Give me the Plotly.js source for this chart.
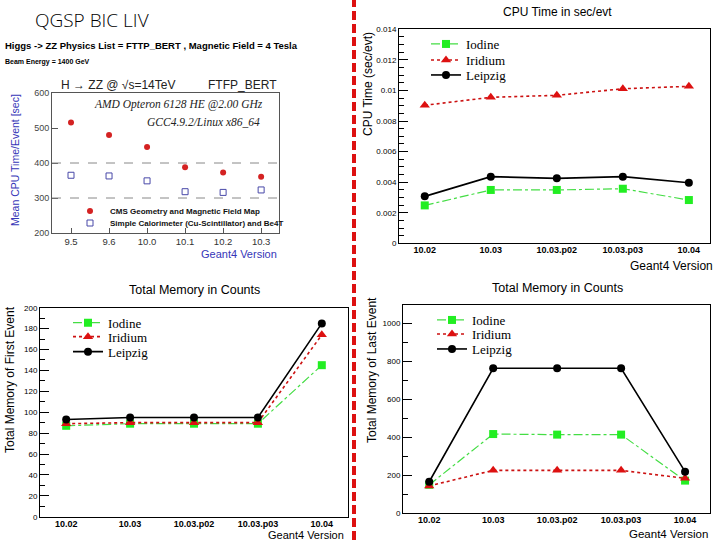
<!DOCTYPE html>
<html>
<head>
<meta charset="utf-8">
<script src="https://cdn.plot.ly/plotly-3.0.1.min.js"></script>
<style>
html,body{margin:0;padding:0;background:#fff;}
#chart{width:720px;height:540px;}
</style>
</head>
<body>
<div id="chart"></div>
<script>
// ---------- data ----------
const oldVersions = ['9.5', '9.6', '10.0', '10.1', '10.2', '10.3'];
const cmsGeometry = [516, 480, 446, 388, 373, 361];
const simpleCalo = [365, 363, 349, 318, 316, 323];
const refLines = [300, 400];

const versions = ['10.02', '10.03', '10.03.p02', '10.03.p03', '10.04'];
const cpuIodine = [0.00248, 0.00349, 0.00349, 0.00357, 0.00283];
const cpuIridium = [0.00903, 0.00955, 0.00968, 0.01011, 0.01027];
const cpuLeipzig = [0.00307, 0.00436, 0.00425, 0.00436, 0.00396];

const memFirstIodine = [87, 89, 89, 89, 145];
const memFirstIridium = [89, 90, 90, 90, 174];
const memFirstLeipzig = [93, 95, 95, 95, 185];

const memLastIodine = [150, 417, 414, 414, 172];
const memLastIridium = [144, 226, 226, 226, 184];
const memLastLeipzig = [166, 763, 763, 763, 219];

const machines = ['Iodine', 'Iridium', 'Leipzig'];

// ---------- helpers ----------
const W = 720, H = 540;
const X = p => p / W;
const Y = p => 1 - p / H;
const SANS = 'Liberation Sans, Arial, sans-serif';
const SERIF = 'Liberation Serif, Times New Roman, serif';

const styles = {
  Iodine: {line: {color: '#44dd44', width: 1.2, dash: 'dashdot'}, marker: {symbol: 'square', size: 8, color: '#22ee22'}},
  Iridium: {line: {color: '#cc1111', width: 1.6, dash: 'dot'}, marker: {symbol: 'triangle-up', size: 9, color: '#dd1111'}},
  Leipzig: {line: {color: '#000000', width: 1.6, dash: 'solid'}, marker: {symbol: 'circle', size: 8, color: '#000000'}}
};

let legendCount = 0;
const legends = {};
function mkLegend(xpx, ypx, fontSpec) {
  legendCount += 1;
  const key = legendCount === 1 ? 'legend' : 'legend' + legendCount;
  legends[key] = {
    x: X(xpx), y: Y(ypx), xanchor: 'left', yanchor: 'middle',
    bgcolor: 'rgba(0,0,0,0)', borderwidth: 0, font: fontSpec, itemwidth: 30
  };
  return key;
}

const traces = [];
function addSeries(name, xs, ys, xa, ya, legX, legY) {
  const s = styles[name];
  traces.push({
    type: 'scatter', mode: 'lines+markers', name: name, x: xs, y: ys,
    xaxis: xa, yaxis: ya, line: s.line, marker: s.marker,
    legend: mkLegend(legX, legY, {family: SERIF, size: 13, color: '#000'}),
    cliponaxis: false
  });
}

// Panel A (top-left): CPU time vs old versions
traces.push({
  type: 'scatter', mode: 'markers', name: 'CMS Geometry and Magnetic Field Map',
  x: oldVersions, y: cmsGeometry, xaxis: 'x', yaxis: 'y',
  marker: {symbol: 'circle', size: 6, color: '#d42222'},
  legend: mkLegend(70, 211, {family: SANS, size: 8, color: '#111', weight: 'bold'})
});
traces.push({
  type: 'scatter', mode: 'markers', name: 'Simple Calorimeter (Cu-Scintillator) and Be4T',
  x: oldVersions, y: simpleCalo, xaxis: 'x', yaxis: 'y',
  marker: {symbol: 'square-open', size: 6, color: '#4848a8', line: {width: 1}},
  legend: mkLegend(70, 223, {family: SANS, size: 8, color: '#111', weight: 'bold'})
});

// Panel B (top-right): CPU time sec/evt
const cpuSeries = {Iodine: cpuIodine, Iridium: cpuIridium, Leipzig: cpuLeipzig};
const cpuLegY = [44, 60, 75];
machines.forEach((m, i) => addSeries(m, versions, cpuSeries[m], 'x2', 'y2', 426, cpuLegY[i]));

// Panel C (bottom-left): memory of first event
const firstSeries = {Iodine: memFirstIodine, Iridium: memFirstIridium, Leipzig: memFirstLeipzig};
const firstLegY = [322.7, 336.7, 351.7];
machines.forEach((m, i) => addSeries(m, versions, firstSeries[m], 'x3', 'y3', 68, firstLegY[i]));

// Panel D (bottom-right): memory of last event
const lastSeries = {Iodine: memLastIodine, Iridium: memLastIridium, Leipzig: memLastLeipzig};
const lastLegY = [320, 334, 349];
machines.forEach((m, i) => addSeries(m, versions, lastSeries[m], 'x4', 'y4', 432, lastLegY[i]));

// ---------- axes ----------
function catAxis(domainPx, range, anchor, cats, font) {
  return {
    domain: [X(domainPx[0]), X(domainPx[1])], anchor: anchor, type: 'category',
    categoryorder: 'array', categoryarray: cats, range: range,
    showline: true, mirror: true, linecolor: '#000', linewidth: 1,
    ticks: '', showgrid: false, zeroline: false, fixedrange: true,
    tickfont: font, automargin: false, ticklabelstandoff: -2
  };
}
function valAxis(domainPx, range, anchor, dtick, minorDtick, font, lineColor) {
  return {
    domain: [Y(domainPx[1]), Y(domainPx[0])], anchor: anchor, range: range,
    dtick: dtick, tick0: 0, ticks: 'inside', ticklen: 9, tickcolor: lineColor,
    minor: {ticks: 'inside', ticklen: 5, dtick: minorDtick, tickcolor: lineColor},
    showline: true, mirror: true, linecolor: lineColor, linewidth: 1,
    showgrid: false, zeroline: false, fixedrange: true, tickfont: font, automargin: false
  };
}

const tickBold = {family: SANS, size: 9, color: '#000', weight: 'bold'};
const tickSmall = {family: SANS, size: 8, color: '#000'};

const layout = {
  width: W, height: H,
  margin: {l: 0, r: 0, t: 0, b: 0},
  paper_bgcolor: '#fff', plot_bgcolor: 'rgba(0,0,0,0)',
  showlegend: true,
  xaxis: Object.assign(catAxis([52, 279], [-0.5, 5.47], 'y', oldVersions,
    {family: SANS, size: 9.5, color: '#333'}), {linecolor: '#555', ticks: 'inside', ticklen: 5, tickcolor: '#555', ticklabelstandoff: 0}),
  yaxis: Object.assign(valAxis([93, 233], [200, 600], 'x', 100, 20,
    {family: SANS, size: 9, color: '#444'}, '#555'), {ticklen: 6, minor: {ticks: ''}}),
  xaxis2: catAxis([399, 710], [-0.39, 4.32], 'y2', versions, tickBold),
  yaxis2: valAxis([29.3, 243.3], [0, 0.014], 'x2', 0.002, 0.0005, tickSmall, '#000'),
  xaxis3: catAxis([40, 348], [-0.41, 4.41], 'y3', versions, tickBold),
  yaxis3: valAxis([307.7, 516.7], [0, 200], 'x3', 20, 10, tickSmall, '#000'),
  xaxis4: catAxis([403, 710], [-0.41, 4.39], 'y4', versions, tickBold),
  yaxis4: valAxis([305, 513.3], [0, 1096], 'x4', 200, 100, tickSmall, '#000'),
  shapes: [],
  annotations: []
};
Object.assign(layout, legends);

// reference dashed lines in panel A
refLines.forEach(v => layout.shapes.push({
  type: 'line', xref: 'x domain', yref: 'y', x0: 0, x1: 1, y0: v, y1: v,
  line: {color: '#888', width: 1, dash: 'dash'}
}));
// red dashed divider
layout.shapes.push({
  type: 'line', xref: 'paper', yref: 'paper', x0: X(354), x1: X(354), y0: 0, y1: 1,
  line: {color: '#dd1111', width: 4, dash: '9px,4px'}
});

function ann(text, xpx, ypx, font, opts) {
  layout.annotations.push(Object.assign({
    text: text, xref: 'paper', yref: 'paper', x: X(xpx), y: Y(ypx),
    xanchor: 'left', yanchor: 'middle', showarrow: false, font: font
  }, opts || {}));
}

// Panel A texts
ann('QGSP BIC LIV', 33, 20, {family: 'Open Sans, sans-serif', size: 19, color: '#000', weight: 300});
ann('Higgs -&gt; ZZ Physics List = FTTP_BERT , Magnetic Field = 4 Tesla', 3, 46,
  {family: SANS, size: 9.5, color: '#000', weight: 'bold'});
ann('Beam Energy = 1400 GeV', 3, 62, {family: SANS, size: 7, color: '#000', weight: 'bold'});
ann('H → ZZ @ √s=14TeV', 59, 85, {family: SANS, size: 12, color: '#222'});
ann('FTFP_BERT', 279, 85, {family: SANS, size: 12, color: '#222'}, {xanchor: 'right'});
ann('<i>AMD Opteron 6128 HE @2.00 GHz</i>', 265, 104, {family: SERIF, size: 11.5, color: '#222'}, {xanchor: 'right'});
ann('<i>GCC4.9.2/Linux x86_64</i>', 262, 122, {family: SERIF, size: 11.5, color: '#222'}, {xanchor: 'right'});
ann('Mean CPU Time/Event [sec]', 15, 160, {family: SANS, size: 10.5, color: '#3636b8'}, {xanchor: 'center', textangle: -90});
ann('Geant4 Version', 279, 254, {family: SANS, size: 11, color: '#3636b8'}, {xanchor: 'right'});

// Panel B texts
ann('CPU Time in sec/evt', 557, 12, {family: SANS, size: 12, color: '#000'}, {xanchor: 'center'});
ann('CPU Time (sec/evt)', 368, 84, {family: SANS, size: 12, color: '#000'}, {xanchor: 'center', textangle: -90});
ann('Geant4 Version', 715, 266, {family: SANS, size: 12, color: '#000'}, {xanchor: 'right'});

// Panel C texts
ann('Total Memory in Counts', 194, 290, {family: SANS, size: 12.5, color: '#000'}, {xanchor: 'center'});
ann('Total Memory of First Event', 10, 380, {family: SANS, size: 12, color: '#000'}, {xanchor: 'center', textangle: -90});
ann('Geant4 Version', 346, 534.5, {family: SANS, size: 11, color: '#000'}, {xanchor: 'right'});

// Panel D texts
ann('Total Memory in Counts', 557, 288, {family: SANS, size: 12.5, color: '#000'}, {xanchor: 'center'});
ann('Total Memory of Last Event', 372, 370, {family: SANS, size: 12, color: '#000'}, {xanchor: 'center', textangle: -90});
ann('Geant4 Version', 710, 534, {family: SANS, size: 11.5, color: '#000'}, {xanchor: 'right'});

Plotly.newPlot('chart', traces, layout, {displayModeBar: false, staticPlot: true});
</script>
</body>
</html>
